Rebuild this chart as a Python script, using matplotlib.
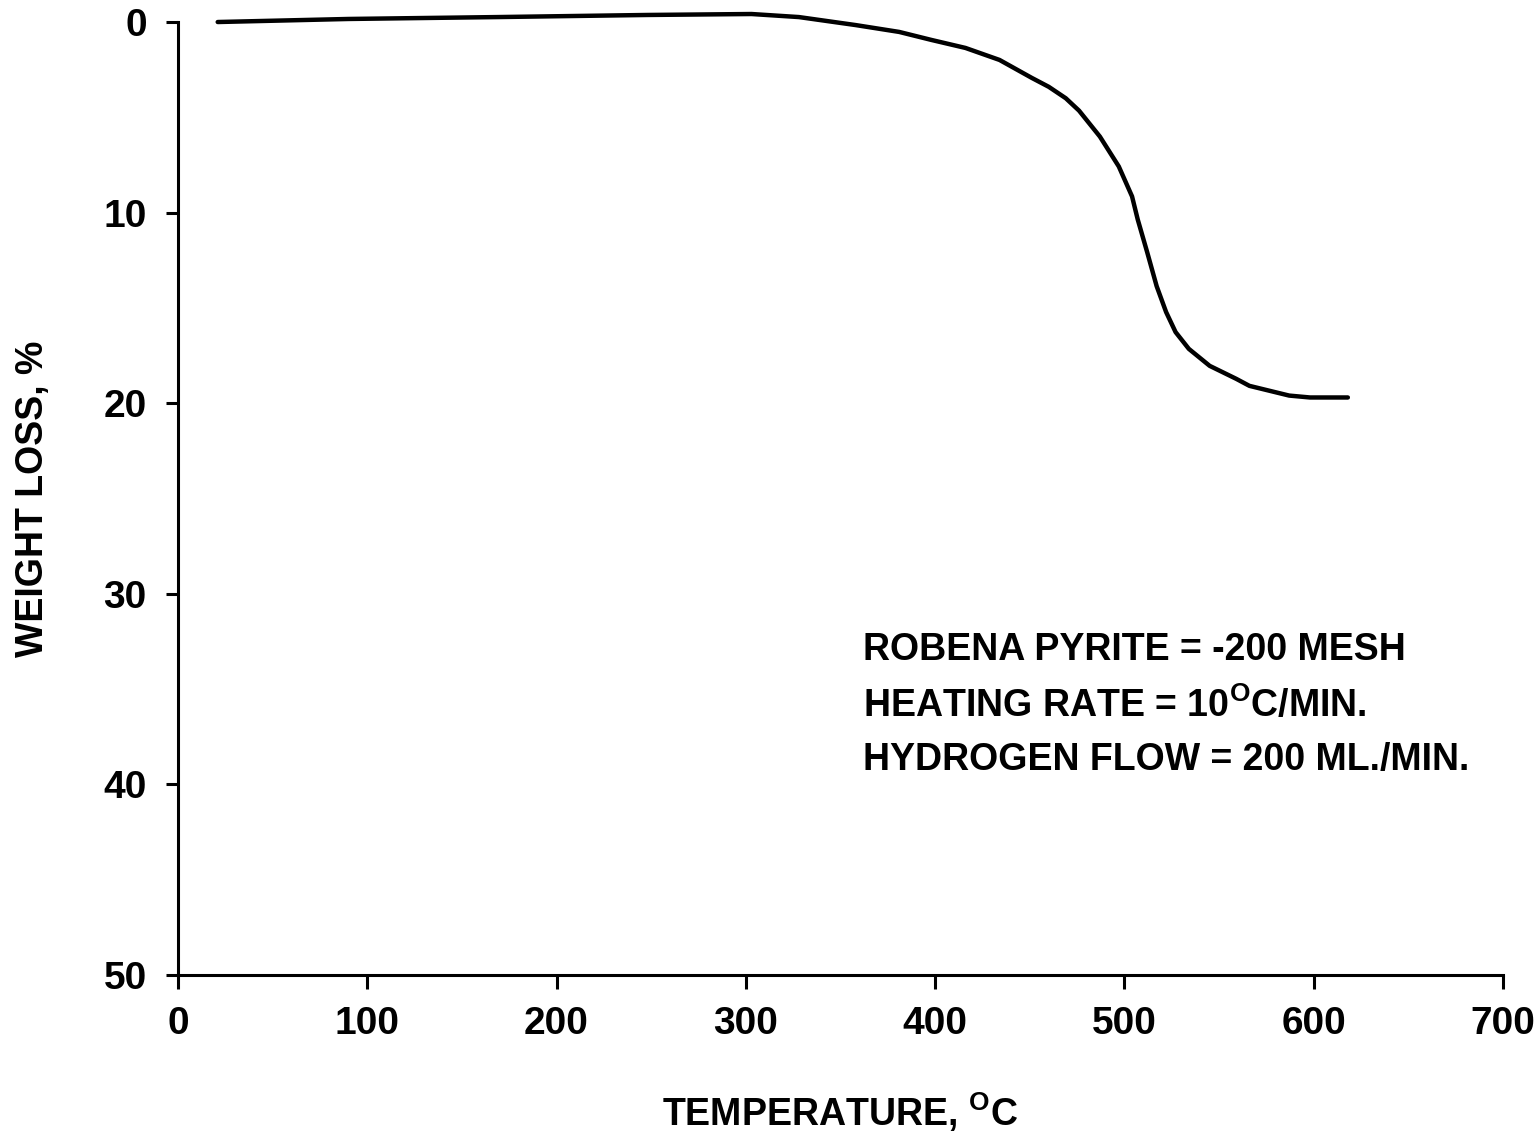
import numpy as np
import matplotlib
matplotlib.use('Agg')
import matplotlib.pyplot as plt

plt.rcParams['font.family'] = ['Liberation Sans Narrow', 'Liberation Sans', 'DejaVu Sans']
plt.rcParams['font.weight'] = 'bold'
plt.rcParams['mathtext.fontset'] = 'custom'
plt.rcParams['mathtext.rm'] = 'Liberation Sans:bold'
plt.rcParams['mathtext.it'] = 'Liberation Sans:bold'
plt.rcParams['mathtext.bf'] = 'Liberation Sans:bold'

# TGA curve
temp = [21, 90, 169, 248, 303, 328, 358, 381, 398, 416, 434, 451, 460, 469,
        476, 487, 497, 504, 507, 512, 517, 522, 527, 534, 545, 559, 566,
        587, 598, 618]
loss = [0.0, -0.16, -0.26, -0.37, -0.42, -0.26, 0.16, 0.52, 0.94, 1.36,
        1.99, 2.93, 3.40, 4.0, 4.65, 6.01, 7.58, 9.15, 10.36, 12.08, 13.86,
        15.22, 16.27, 17.15, 18.04, 18.72, 19.09, 19.6, 19.7, 19.7]

xticks = [0, 100, 200, 300, 400, 500, 600, 700]
yticks = [0, 10, 20, 30, 40, 50]
notes = ['ROBENA PYRITE = -200 MESH',
         'HEATING RATE = 10$^{\\mathrm{O}}$C/MIN.',
         'HYDROGEN FLOW = 200 ML./MIN.']

fig = plt.figure(figsize=(15.38, 11.35), dpi=100)
ax = fig.add_axes([0.1157, 0.141, 0.8616, 0.8396])

ax.plot(temp, loss, color='black', lw=3.2, clip_on=False,
        solid_capstyle='round', solid_joinstyle='round')

ax.set_xlim(0, 700)
ax.set_ylim(50, 0)
ax.set_xticks(xticks)
ax.set_yticks(yticks)
ax.spines['top'].set_visible(False)
ax.spines['right'].set_visible(False)
for s in ['left', 'bottom']:
    ax.spines[s].set_linewidth(2.2)
ax.tick_params(axis='y', direction='out', length=8.5, width=2.2, labelsize=28, pad=14)
ax.tick_params(axis='x', direction='out', length=10, width=2.2, labelsize=28, pad=12)

ax.set_ylabel('WEIGHT LOSS, %', fontsize=27, fontweight='bold', labelpad=38)
ax.set_xlabel('TEMPERATURE, $^{\\mathrm{O}}$C', fontsize=27, fontweight='bold', labelpad=35)

for i, t in enumerate(notes):
    ax.text(362, 32.0 + i * 2.88, t, fontsize=27, fontweight='bold', va='top', ha='left')

fig.savefig('out.png', dpi=100)
